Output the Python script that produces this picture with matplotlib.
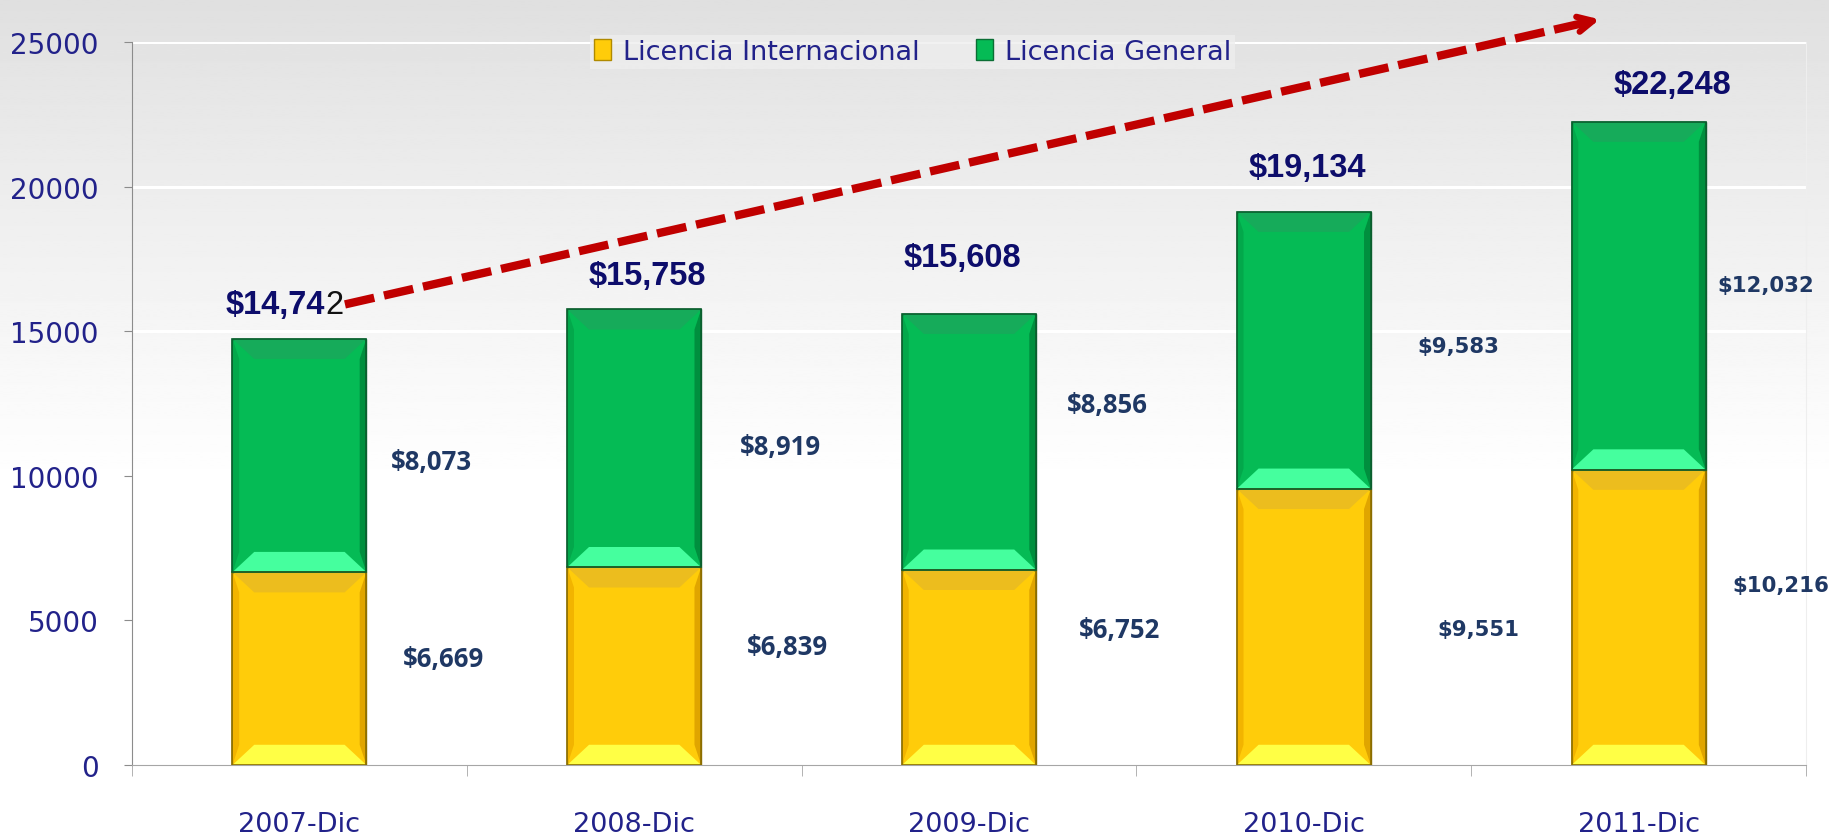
import numpy as np
import matplotlib.pyplot as plt
from matplotlib.patches import Polygon, Rectangle

# Data
categories = ['2007-Dic', '2008-Dic', '2009-Dic', '2010-Dic', '2011-Dic']
internacional = [6669, 6839, 6752, 9551, 10216]
general = [8073, 8919, 8856, 9583, 12032]
totals = [14742, 15758, 15608, 19134, 22248]

navy = '#22228a'
label_blue = '#1f3864'

fig = plt.figure(figsize=(18.29, 8.37), dpi=100)

# background gradient (gray at top -> white)
bg = fig.add_axes([0, 0, 1, 1], zorder=-10)
grad = np.clip(np.linspace(0, 1, 400) / 0.58, 0, 1)
shade = 0.875 + 0.125 * grad ** 0.9
bg.imshow(shade[:, None] * np.ones((1, 2)), aspect='auto', cmap='gray',
          vmin=0, vmax=1, extent=[0, 1, 0, 1], origin='upper')
bg.set_axis_off()

ax = fig.add_axes([0.0722, 0.0848, 0.9152, 0.8638])
ax.set_facecolor('none')

x = np.arange(len(categories))
width = 0.4
b1 = ax.bar(x, internacional, width, color='#ffcc0a', edgecolor='#8a6d00', lw=1, zorder=3)
b2 = ax.bar(x, general, width, bottom=internacional, color='#05bb55',
            edgecolor='#0b5e2e', lw=1, zorder=3)

# bevel shading on each bar segment
def bevel(rect, top, bottom, left, right):
    x0, y0 = rect.get_x(), rect.get_y()
    x1, y1 = x0 + rect.get_width(), y0 + rect.get_height()
    dx, dy = 0.065, 700
    ax.add_patch(Polygon([(x0, y1), (x1, y1), (x1 - dx, y1 - dy), (x0 + dx, y1 - dy)],
                         closed=True, color=top, lw=0, zorder=4))
    ax.add_patch(Polygon([(x0, y0), (x1, y0), (x1 - dx, y0 + dy), (x0 + dx, y0 + dy)],
                         closed=True, color=bottom, lw=0, zorder=4))
    ax.add_patch(Polygon([(x0, y0), (x0 + 0.02, y0 + dy), (x0 + 0.02, y1 - dy), (x0, y1)],
                         closed=True, color=left, lw=0, zorder=4))
    ax.add_patch(Polygon([(x1, y0), (x1 - 0.02, y0 + dy), (x1 - 0.02, y1 - dy), (x1, y1)],
                         closed=True, color=right, lw=0, zorder=4))
    ax.add_patch(Rectangle((x0, y0), x1 - x0, y1 - y0, fill=False,
                           ec=rect.get_edgecolor(), lw=1.2, zorder=5))

for r in b1:
    bevel(r, '#ecbd1e', '#ffff45', '#f2b400', '#e0a500')
for r in b2:
    bevel(r, '#16ab5a', '#45ff9e', '#03a84b', '#008f3e')

# axes styling
ax.set_xlim(-0.5, 4.5)
ax.set_ylim(0, 25000)
ax.set_yticks(range(0, 25001, 5000))
ax.yaxis.grid(True, color='white', lw=2.2, zorder=0)
ax.set_axisbelow(True)
ax.spines['top'].set_visible(False)
ax.spines['left'].set_color('#8c8c8c')
ax.spines['bottom'].set_color('#a6a6a6')
ax.spines['right'].set_color('#eeeeee')
ax.set_xticks(x)
ax.set_xticklabels(categories)
ax.set_xticks(np.arange(-0.5, 5, 1), minor=True)
ax.tick_params(axis='x', which='major', length=0, pad=33, labelsize=19.5, labelcolor=navy)
ax.tick_params(axis='x', which='minor', length=8, color='#a6a6a6')
ax.tick_params(axis='y', length=6, color='#8c8c8c', pad=18, labelsize=20, labelcolor=navy)

# total labels
tot_dx = [-0.07, 0.04, -0.02, 0.01, 0.1]
tot_y = [15927, 16935, 17540, 20645, 23548]
for i, t in enumerate(totals):
    s = f'${t:,}'
    if i == 0:
        ax.text(0.077, tot_y[i], s[:-1], ha='right', va='center', fontsize=23.5,
                fontweight='bold', family='Liberation Sans', color='#0d0d6b', zorder=6)
        ax.text(0.077, tot_y[i], s[-1], ha='left', va='center', fontsize=23.5,
                family='Liberation Sans', color='#111111', zorder=6)
    else:
        ax.text(x[i] + tot_dx[i], tot_y[i], s, ha='center', va='center', fontsize=23.5,
                fontweight='bold', family='Liberation Sans', color='#0d0d6b', zorder=6)

# segment labels
gen_pos = [(0.395, 10484), (1.436, 11008), (2.414, 12460), (3.462, 14476), (4.381, 16613)]
int_pos = [(0.43, 3669), (1.457, 4113), (2.449, 4677), (3.523, 4718), (4.425, 6210)]
for i in range(len(categories)):
    if i < 3:
        kw = dict(family='Open Sans', fontsize=18.5)
    else:
        kw = dict(family='DejaVu Sans', fontsize=15.3)
    ax.text(*gen_pos[i], f'${general[i]:,}', ha='center', va='center',
            fontweight='bold', color=label_blue, zorder=6, **kw)
    ax.text(*int_pos[i], f'${internacional[i]:,}', ha='center', va='center',
            fontweight='bold', color=label_blue, zorder=6, **kw)

# trend arrow
x0, y0, x1, y1 = 0.136, 15927, 3.892, 25806
ax.plot([x0, x1 - 0.03], [y0, y1 - 0.03 * (y1 - y0) / (x1 - x0)], color='#c00000',
        lw=6, dashes=(3.6, 1.2), clip_on=False, zorder=7, solid_capstyle='butt')
ax.annotate('', xy=(x1, y1), xytext=(x1 - 0.12, y1 - 0.12 * (y1 - y0) / (x1 - x0)),
            annotation_clip=False, zorder=7,
            arrowprops=dict(arrowstyle='->,head_length=1.1,head_width=0.55',
                            color='#c00000', lw=4.5))

# legend
handles = [Rectangle((0, 0), 1, 1, fc='#ffcc0a', ec='#b08a00', lw=1),
           Rectangle((0, 0), 1, 1, fc='#05bb55', ec='#0b6e35', lw=1)]
leg = fig.legend(handles, ['Licencia Internacional', 'Licencia General'], ncol=2,
                 loc='center', bbox_to_anchor=(0.499, 0.937), fontsize=19.5,
                 frameon=True, fancybox=False, handlelength=0.6, handleheight=0.8,
                 handletextpad=0.45, columnspacing=2.1, borderpad=0.15)
leg.get_frame().set_facecolor('#eeeeee')
leg.get_frame().set_edgecolor('none')
for t in leg.get_texts():
    t.set_color(navy)

fig.savefig('out.png', dpi=100)
